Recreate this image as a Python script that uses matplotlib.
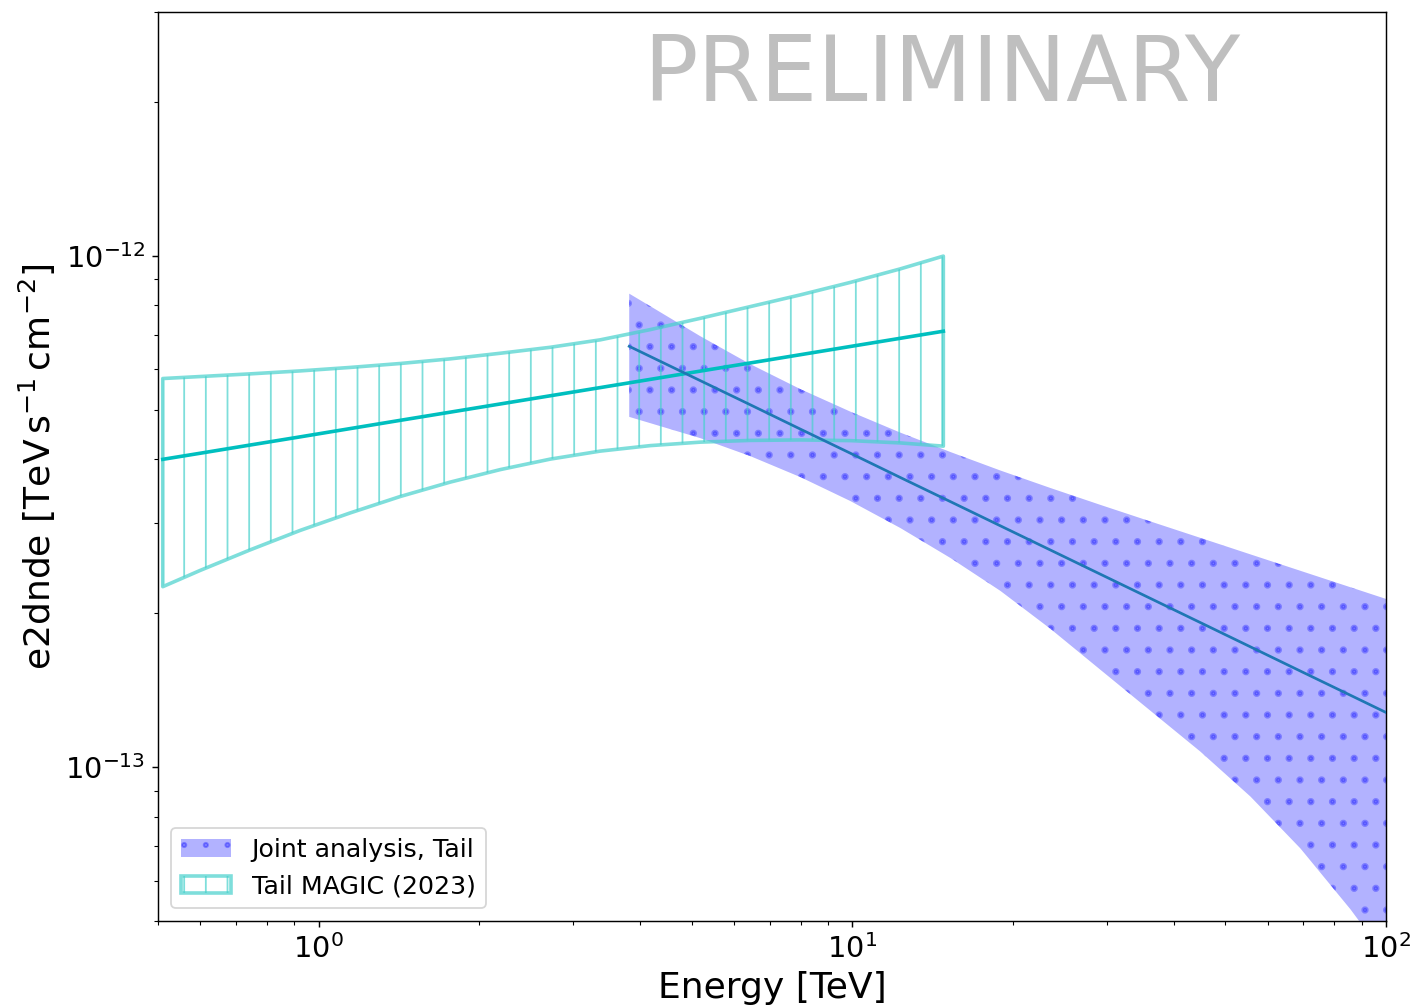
import matplotlib
matplotlib.use("Agg")
import matplotlib.pyplot as plt

# ---- data ----
# Joint analysis, Tail
joint_energy = [3.819, 4.182, 5.189, 6.440, 7.990, 9.915, 12.30, 15.27, 18.94,
                23.50, 29.17, 36.19, 44.91, 55.72, 69.14, 85.81, 100.0]
joint_upper = [8.437e-13, 7.974e-13, 6.966e-13, 6.141e-13, 5.489e-13, 4.959e-13,
               4.512e-13, 4.134e-13, 3.804e-13, 3.516e-13, 3.258e-13, 3.024e-13,
               2.808e-13, 2.607e-13, 2.421e-13, 2.248e-13, 2.133e-13]
joint_center = [6.655e-13, 6.357e-13, 5.702e-13, 5.114e-13, 4.584e-13, 4.112e-13,
                3.686e-13, 3.306e-13, 2.965e-13, 2.659e-13, 2.384e-13, 2.138e-13,
                1.917e-13, 1.719e-13, 1.541e-13, 1.382e-13, 1.279e-13]
joint_lower = [4.843e-13, 4.708e-13, 4.401e-13, 4.058e-13, 3.693e-13, 3.315e-13,
               2.936e-13, 2.565e-13, 2.212e-13, 1.865e-13, 1.550e-13, 1.289e-13,
               1.072e-13, 8.758e-14, 6.931e-14, 5.268e-14, 4.245e-14]

# Tail MAGIC (2023)
magic_energy = [0.5104, 0.5996, 0.7438, 0.9232, 1.1455, 1.4214, 1.7639, 2.1888,
                2.7164, 3.3704, 4.1820, 5.1891, 6.4401, 7.9898, 9.915, 12.30, 14.81]
magic_upper = [5.756e-13, 5.808e-13, 5.878e-13, 5.957e-13, 6.051e-13, 6.159e-13,
               6.289e-13, 6.450e-13, 6.626e-13, 6.852e-13, 7.175e-13, 7.549e-13,
               7.959e-13, 8.390e-13, 8.875e-13, 9.432e-13, 9.991e-13]
magic_center = [4.000e-13, 4.111e-13, 4.266e-13, 4.426e-13, 4.594e-13, 4.768e-13,
                4.947e-13, 5.133e-13, 5.326e-13, 5.526e-13, 5.734e-13, 5.952e-13,
                6.175e-13, 6.408e-13, 6.650e-13, 6.900e-13, 7.123e-13]
magic_lower = [2.254e-13, 2.425e-13, 2.660e-13, 2.904e-13, 3.142e-13, 3.383e-13,
               3.610e-13, 3.819e-13, 4.004e-13, 4.151e-13, 4.255e-13, 4.322e-13,
               4.356e-13, 4.365e-13, 4.352e-13, 4.307e-13, 4.245e-13]

labels = ["Joint analysis, Tail", "Tail MAGIC (2023)"]
watermark = "PRELIMINARY"

# ---- figure ----
DPI = 130
fig = plt.figure(figsize=(1412 / DPI, 1007 / DPI), dpi=DPI)
ax = fig.add_axes([158 / 1412, 86 / 1007, 1228 / 1412, 909 / 1007])
ax.set_xscale("log")
ax.set_yscale("log")

with plt.rc_context({"hatch.linewidth": 1.6}):
    h_joint = ax.fill_between(joint_energy, joint_lower, joint_upper,
                              facecolor="blue", edgecolor="blue", alpha=0.3,
                              hatch=".", linewidth=0, zorder=1, label=labels[0])
if hasattr(h_joint, "set_hatch_linewidth"):
    h_joint.set_hatch_linewidth(1.6)

h_magic = ax.fill_between(magic_energy, magic_lower, magic_upper,
                          facecolor="none", edgecolor="mediumturquoise", alpha=0.7,
                          hatch="|", linewidth=2, zorder=2, label=labels[1])
ax.plot(magic_energy, magic_center, color="c", lw=2, zorder=3)
ax.plot(joint_energy, joint_center, color="C0", lw=1.5, zorder=4)

ax.set_xlim(0.5, 100)
ax.set_ylim(5e-14, 3e-12)

ax.set_xlabel("Energy [TeV]", fontsize=20)
ax.set_ylabel(r"e2dnde [$\mathrm{TeV\,s^{-1}\,cm^{-2}}$]", fontsize=20)
ax.tick_params(axis="both", which="major", labelsize=16)

ax.text(0.6384, 0.902, watermark, transform=ax.transAxes, fontsize=50,
        color="gray", alpha=0.5, ha="center", va="baseline")

ax.legend(handles=[h_joint, h_magic], loc="lower left", fontsize=14)

fig.savefig("out.png", dpi=DPI)
